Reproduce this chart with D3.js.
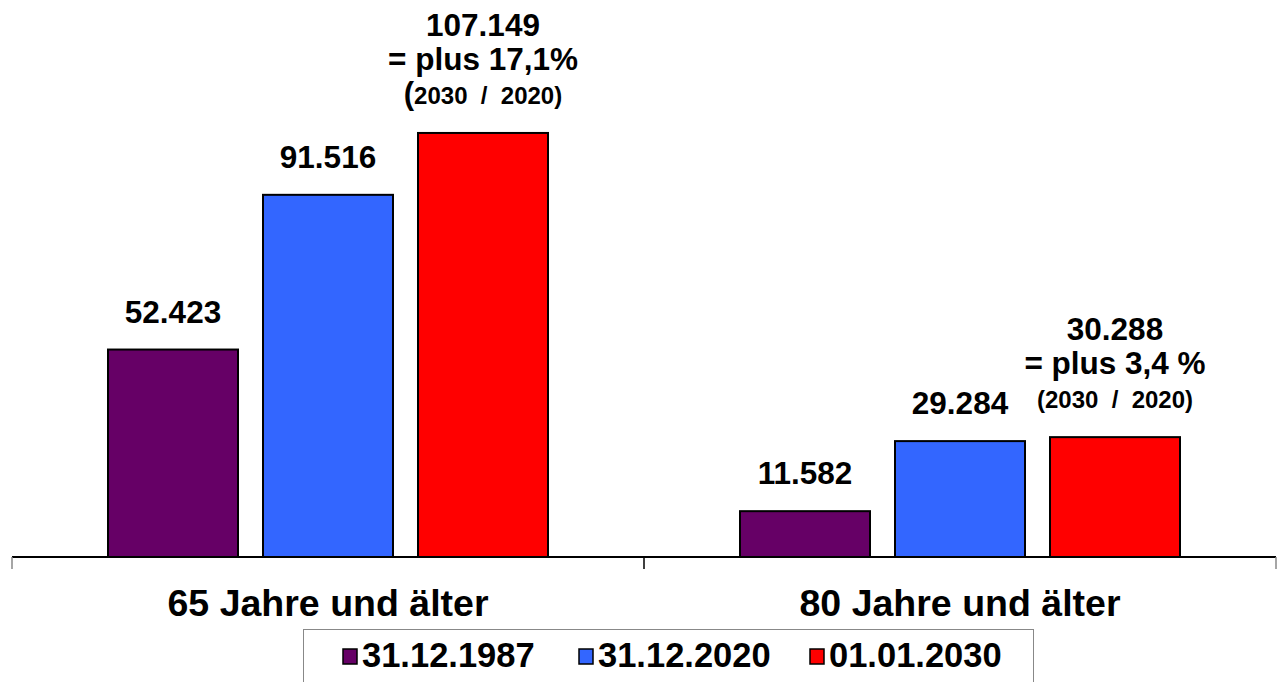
<!DOCTYPE html>
<html>
<head>
<meta charset="utf-8">
<script src="https://cdn.jsdelivr.net/npm/d3@7"></script>
<style>
  body { margin: 0; background: #fff; }
  svg { display: block; font-family: "Liberation Sans", Arial, sans-serif; font-weight: bold; }
</style>
</head>
<body>
<div id="chart"></div>
<script>
// data
const groups = ["65 Jahre und älter", "80 Jahre und älter"];
const series = ["31.12.1987", "31.12.2020", "01.01.2030"];
const colors = ["#660066", "#3366FF", "#FF0000"];
const values65 = [52423, 91516, 107149];
const values80 = [11582, 29284, 30288];
const growth = ["= plus 17,1%", "= plus 3,4 %"];
const growthNote = "2030 / 2020)";

const allValues = [values65, values80];
const fmt = v => d3.format(",")(v).replace(/,/g, ".");

const width = 1279, height = 682;
const baseY = 557;

const svg = d3.select("#chart").append("svg")
  .attr("width", width)
  .attr("height", height);

const x0 = d3.scaleBand().domain(groups).range([12, 1276]);
const x1 = d3.scaleBand().domain(series).range([-220, 220]).paddingInner(25 / 155);
const y = d3.scaleLinear().domain([0, 120000]).range([baseY, baseY - 474.9]);

// bars
groups.forEach(function(g, gi) {
  const cx = x0(g) + x0.bandwidth() / 2;
  const grp = svg.append("g").attr("transform", "translate(" + cx + ",0)");
  const data = series.map((s, i) => ({ s: s, v: allValues[gi][i], c: colors[i] }));

  grp.selectAll("rect")
    .data(data)
    .enter()
    .append("rect")
    .attr("x", d => x1(d.s))
    .attr("width", x1.bandwidth())
    .attr("y", d => y(d.v))
    .attr("height", d => baseY - y(d.v))
    .style("fill", d => d.c)
    .style("stroke", "#000")
    .style("stroke-width", 2);

  // labels for first two bars
  grp.selectAll("text.val")
    .data(data.slice(0, 2))
    .enter()
    .append("text")
    .attr("class", "val")
    .attr("x", d => x1(d.s) + x1.bandwidth() / 2)
    .attr("y", d => y(d.v) - 27)
    .attr("text-anchor", "middle")
    .style("font-size", "31.5px")
    .text(d => fmt(d.v));

  // three-line label on the last bar
  const last = data[2];
  const lx = x1(last.s) + x1.bandwidth() / 2;
  const ty = y(last.v);
  grp.append("text")
    .attr("x", lx).attr("y", ty - 97)
    .attr("text-anchor", "middle")
    .style("font-size", "31.5px")
    .text(fmt(last.v));
  grp.append("text")
    .attr("x", lx).attr("y", ty - 63)
    .attr("text-anchor", "middle")
    .style("font-size", "31.5px")
    .text(growth[gi]);
  const note = grp.append("text")
    .attr("x", lx).attr("y", ty - 29)
    .attr("text-anchor", "middle")
    .style("white-space", "pre");
  note.append("tspan").style("font-size", gi === 0 ? "31px" : "24px").text("(");
  note.append("tspan").style("font-size", "24px").text(growthNote.replace(" / ", "  /  "));
});

// axis
const xAxis = d3.axisBottom(x0).tickSize(12).tickSizeOuter(12).tickFormat("");
const axisG = svg.append("g")
  .attr("transform", "translate(0," + baseY + ")")
  .call(xAxis);
axisG.select(".domain").style("stroke", "#000").style("stroke-width", 2)
  .attr("d", "M12,0H1276");
axisG.selectAll(".tick").remove();
const tickXs = [x0.range()[0]].concat(groups.map(g => x0(g) + x0.bandwidth()));
axisG.selectAll("line.t")
  .data(tickXs)
  .enter()
  .append("line")
  .attr("class", "t")
  .attr("x1", d => d).attr("x2", d => d)
  .attr("y1", 0).attr("y2", 12)
  .style("stroke", (d, i) => i === 1 ? "#000" : "#888")
  .style("stroke-width", 1.5);

svg.selectAll("text.cat")
  .data(groups)
  .enter()
  .append("text")
  .attr("class", "cat")
  .attr("x", d => x0(d) + x0.bandwidth() / 2)
  .attr("y", 616)
  .attr("text-anchor", "middle")
  .style("font-size", "37.5px")
  .text(d => d);

// legend
const legend = svg.append("g");
legend.append("rect")
  .attr("x", 303.5).attr("y", 629.5)
  .attr("width", 730).attr("height", 70)
  .style("fill", "#fff")
  .style("stroke", "#888")
  .style("stroke-width", 1);

const legendX = [343, 579, 810];
const item = legend.selectAll("g.item")
  .data(series)
  .enter()
  .append("g")
  .attr("class", "item")
  .attr("transform", (d, i) => "translate(" + legendX[i] + ",0)");
item.append("rect")
  .attr("x", 0).attr("y", 649)
  .attr("width", 14).attr("height", 15)
  .style("fill", (d, i) => colors[i])
  .style("stroke", "#000")
  .style("stroke-width", 1.5);
item.append("text")
  .attr("x", 19).attr("y", 667)
  .style("font-size", "34.5px")
  .text(d => d);
</script>
</body>
</html>
